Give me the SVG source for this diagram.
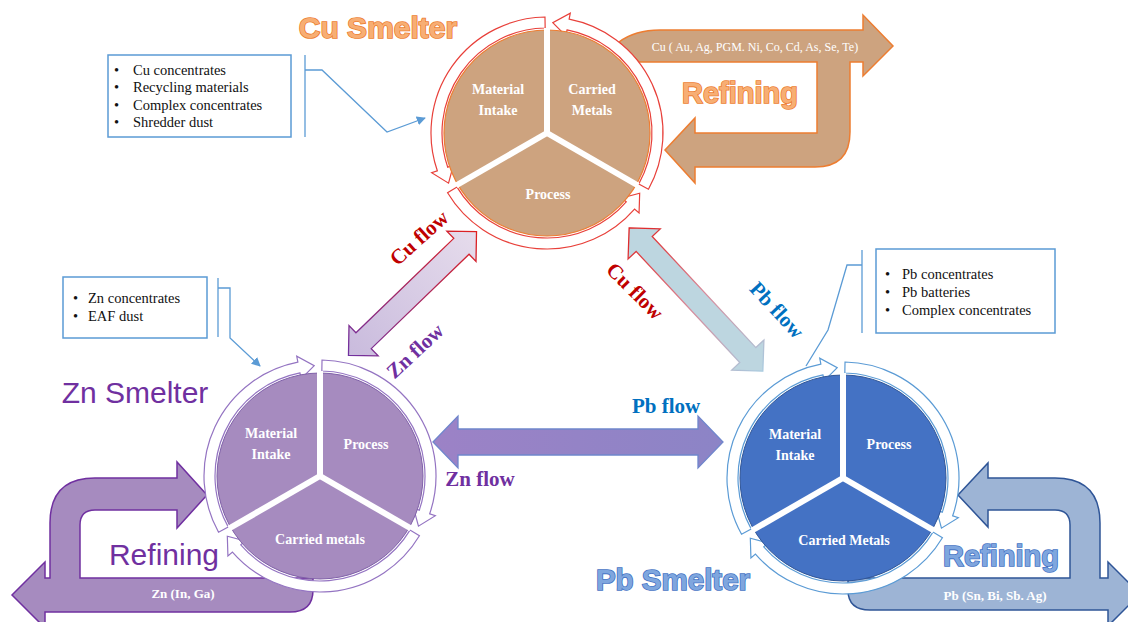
<svg xmlns="http://www.w3.org/2000/svg" width="1128" height="622" viewBox="0 0 1128 622">
<style>
.serif{font-family:"Liberation Serif","Times New Roman",serif}
.sans{font-family:"Liberation Sans",Arial,sans-serif}
.box{fill:#fff;stroke:#5B9BD5;stroke-width:1.5}
.btxt{font-family:"Liberation Serif","Times New Roman",serif;font-size:14.5px;fill:#111}
.conn{fill:none;stroke:#5B9BD5;stroke-width:1.3}
.pl{font-family:"Liberation Serif","Times New Roman",serif;font-size:14px;font-weight:bold;fill:#fff;text-anchor:middle}
.gap{stroke:#fff;stroke-width:6}
.flow{font-family:"Liberation Serif","Times New Roman",serif;font-size:21px;font-weight:bold;text-anchor:middle}
.orT{fill:#F7AE74;stroke:#ED7D31;stroke-width:1.6;paint-order:stroke}
.blT{fill:#7FA6DE;stroke:#4472C4;stroke-width:1.6;paint-order:stroke}
</style>
<defs>
<path id="arc" d="M -101.45 56.24 A 116 116 0 0 1 -22.13 -113.87 L -23.28 -119.76 L -5.78 -110.35 L -18.89 -97.18 L -20.03 -103.07 A 105 105 0 0 0 -91.83 50.90 Z"/>
<marker id="ah" viewBox="0 0 10 10" refX="9" refY="5" markerWidth="7" markerHeight="7" orient="auto"><path d="M0 0 L10 5 L0 10 Z" fill="#5B9BD5"/></marker>
<linearGradient id="gCZ" x1="0" y1="0" x2="1" y2="0"><stop offset="0" stop-color="#7030A0"/><stop offset="1" stop-color="#E02020"/></linearGradient>
<linearGradient id="gCZf" x1="0" y1="0" x2="1" y2="0"><stop offset="0" stop-color="#C9BBDD"/><stop offset="1" stop-color="#E6DCEC"/></linearGradient>
<linearGradient id="gCP" x1="0" y1="0" x2="1" y2="0"><stop offset="0" stop-color="#E02020"/><stop offset="0.5" stop-color="#D98A9A"/><stop offset="1" stop-color="#A9CBE0"/></linearGradient>
<linearGradient id="gZP" x1="0" y1="0" x2="1" y2="0"><stop offset="0" stop-color="#9C82C6"/><stop offset="1" stop-color="#8C84C6"/></linearGradient>
</defs>

<g id="cu-refining">
<path d="M 893 46 L 863 76 L 863 62 L 850 62 L 850 132 Q 850 167 815 167 L 695 167 L 695 183 L 665 150 L 695 118 L 695 133 L 817 133 L 817 62 L 639 62 L 619 42 Q 635 30 660 30 L 863 30 L 863 15 Z" fill="#CDA37F" stroke="#ED7D31" stroke-width="1.5"/>
<text class="serif" x="755" y="51" font-size="12" fill="#fff" text-anchor="middle">Cu ( Au, Ag, PGM. Ni, Co, Cd, As, Se, Te)</text>
<text class="sans orT" x="740" y="103" font-size="29" font-weight="bold" text-anchor="middle">Refining</text>
</g>

<g id="zn-refining">
<path d="M 207 495 L 177 462 L 177 478 L 95 478 Q 50 478 50 523 L 50 578 L 45 578 L 45 562 L 12 595 L 45 628 L 45 612 L 290 612 Q 313 612 313 590 L 313 578 L 80 578 L 80 525 Q 80 510 95 510 L 177 510 L 177 528 Z" fill="#A68BBF" stroke="#7030A0" stroke-width="1.5"/>
<text class="serif" x="183" y="598" font-size="13" font-weight="bold" fill="#fff" text-anchor="middle">Zn (In, Ga)</text>
<text class="sans" x="164" y="565" font-size="30" fill="#7030A0" text-anchor="middle">Refining</text>
</g>

<g id="pb-refining">
<path d="M 958 495 L 988 463 L 988 478 L 1055 478 Q 1100 478 1100 523 L 1100 578 L 1108 578 L 1108 562 L 1140 594 L 1108 626 L 1108 610 L 870 610 Q 848 610 848 590 L 848 578 L 1070 578 L 1070 525 Q 1070 510 1055 510 L 988 510 L 988 527 Z" fill="#9DB4D5" stroke="#2F5597" stroke-width="1.5"/>
<text class="serif" x="995" y="600" font-size="13" font-weight="bold" fill="#fff" text-anchor="middle">Pb (Sn, Bi, Sb. Ag)</text>
<text class="sans blT" x="1001" y="566" font-size="29" font-weight="bold" text-anchor="middle">Refining</text>
</g>

<g id="cu-smelter">
<g fill="#fff" stroke="#E8403A" stroke-width="1.2">
<use href="#arc" transform="translate(547,133) scale(-1,1)"/>
<use href="#arc" transform="translate(547,133) scale(-1,1) rotate(120)"/>
<use href="#arc" transform="translate(547,133) scale(-1,1) rotate(240)"/>
</g>
<circle cx="547" cy="133" r="103" fill="#CDA37F" stroke="#ED7D31" stroke-width="1.2"/>
<line class="gap" x1="547" y1="133" x2="547" y2="28"/>
<line class="gap" x1="547" y1="133" x2="638" y2="185.5"/>
<line class="gap" x1="547" y1="133" x2="456" y2="185.5"/>
<text class="pl" x="498" y="94">Material</text>
<text class="pl" x="498" y="115">Intake</text>
<text class="pl" x="592" y="94">Carried</text>
<text class="pl" x="592" y="115">Metals</text>
<text class="pl" x="548" y="199">Process</text>
<text class="sans orT" x="378" y="38" font-size="30" font-weight="bold" text-anchor="middle">Cu Smelter</text>
</g>

<g id="zn-smelter">
<g fill="#fff" stroke="#9474C2" stroke-width="1.2">
<use href="#arc" transform="translate(320,476)"/>
<use href="#arc" transform="translate(320,476) rotate(120)"/>
<use href="#arc" transform="translate(320,476) rotate(240)"/>
</g>
<circle cx="320" cy="476" r="103" fill="#A68BBF" stroke="#7F5FA8" stroke-width="1"/>
<line class="gap" x1="320" y1="476" x2="320" y2="371"/>
<line class="gap" x1="320" y1="476" x2="411" y2="528.5"/>
<line class="gap" x1="320" y1="476" x2="229" y2="528.5"/>
<text class="pl" x="271" y="438">Material</text>
<text class="pl" x="271" y="459">Intake</text>
<text class="pl" x="366" y="449">Process</text>
<text class="pl" x="320" y="544">Carried metals</text>
<text class="sans" x="135" y="403" font-size="30" fill="#7030A0" text-anchor="middle">Zn Smelter</text>
</g>

<g id="pb-smelter">
<g fill="#fff" stroke="#5B9BD5" stroke-width="1.2">
<use href="#arc" transform="translate(843,478)"/>
<use href="#arc" transform="translate(843,478) rotate(120)"/>
<use href="#arc" transform="translate(843,478) rotate(240)"/>
</g>
<circle cx="843" cy="478" r="103" fill="#4472C4" stroke="#2F5597" stroke-width="1"/>
<line class="gap" x1="843" y1="478" x2="843" y2="373"/>
<line class="gap" x1="843" y1="478" x2="934" y2="530.5"/>
<line class="gap" x1="843" y1="478" x2="752" y2="530.5"/>
<text class="pl" x="795" y="439">Material</text>
<text class="pl" x="795" y="460">Intake</text>
<text class="pl" x="889" y="449">Process</text>
<text class="pl" x="844" y="545">Carried Metals</text>
<text class="sans blT" x="673" y="590" font-size="29.5" font-weight="bold" text-anchor="middle">Pb Smelter</text>
</g>

<g id="cu-inputs">
<rect class="box" x="108" y="55" width="183" height="82"/>
<g class="btxt">
<text x="114" y="75">•</text><text x="133" y="75">Cu concentrates</text>
<text x="114" y="92">•</text><text x="133" y="92">Recycling materials</text>
<text x="114" y="110">•</text><text x="133" y="110">Complex concentrates</text>
<text x="114" y="127">•</text><text x="133" y="127">Shredder dust</text>
</g>
</g>

<g id="zn-inputs">
<rect class="box" x="63" y="277" width="144" height="61"/>
<g class="btxt">
<text x="73" y="303">•</text><text x="88" y="303">Zn concentrates</text>
<text x="73" y="321">•</text><text x="88" y="321">EAF dust</text>
</g>
</g>

<g id="pb-inputs">
<rect class="box" x="876" y="249" width="179" height="84"/>
<g class="btxt">
<text x="885" y="279">•</text><text x="902" y="279">Pb concentrates</text>
<text x="885" y="297">•</text><text x="902" y="297">Pb batteries</text>
<text x="885" y="315">•</text><text x="902" y="315">Complex concentrates</text>
</g>
</g>

<g id="connectors">
<line class="conn" x1="305" y1="55" x2="305" y2="137"/>
<path class="conn" d="M 305 70 L 322 70 L 387 132 L 425 118" marker-end="url(#ah)"/>
<line class="conn" x1="218" y1="278" x2="218" y2="337"/>
<path class="conn" d="M 218 288 L 230 288 L 230 338 L 260 366" marker-end="url(#ah)"/>
<line class="conn" x1="862" y1="250" x2="862" y2="333"/>
<path class="conn" d="M 862 265 L 847 265 L 828 330 L 806 366"/>

<path transform="translate(412.5,293.5) rotate(-44)" d="M -89 0 L -68 -21 L -68 -11 L 68 -11 L 68 -21 L 89 0 L 68 21 L 68 11 L -68 11 L -68 21 Z" fill="url(#gCZf)" stroke="url(#gCZ)" stroke-width="1.3"/>
<path transform="translate(696,299.5) rotate(47)" d="M -98 0 L -76 -22 L -76 -11 L 76 -11 L 76 -22 L 98 0 L 76 22 L 76 11 L -76 11 L -76 22 Z" fill="#BDD6E0" stroke="url(#gCP)" stroke-width="1.3"/>
<path d="M 433 442 L 458 416 L 458 429 L 698 429 L 698 416 L 723 442 L 698 468 L 698 455 L 458 455 L 458 468 Z" fill="url(#gZP)" stroke="#6F86CC" stroke-width="1.3"/>

<text class="flow" fill="#C00000" transform="translate(419,238) rotate(-42)" y="7">Cu flow</text>
<text class="flow" fill="#7030A0" transform="translate(415,351) rotate(-43)" y="7">Zn flow</text>
<text class="flow" fill="#C00000" transform="translate(635,291) rotate(45)" y="7">Cu flow</text>
<text class="flow" fill="#0070C0" transform="translate(777,310) rotate(47)" y="7">Pb flow</text>
<text class="flow" fill="#0070C0" x="666" y="413">Pb flow</text>
<text class="flow" fill="#7030A0" x="480" y="486">Zn flow</text>
</g>
</svg>
